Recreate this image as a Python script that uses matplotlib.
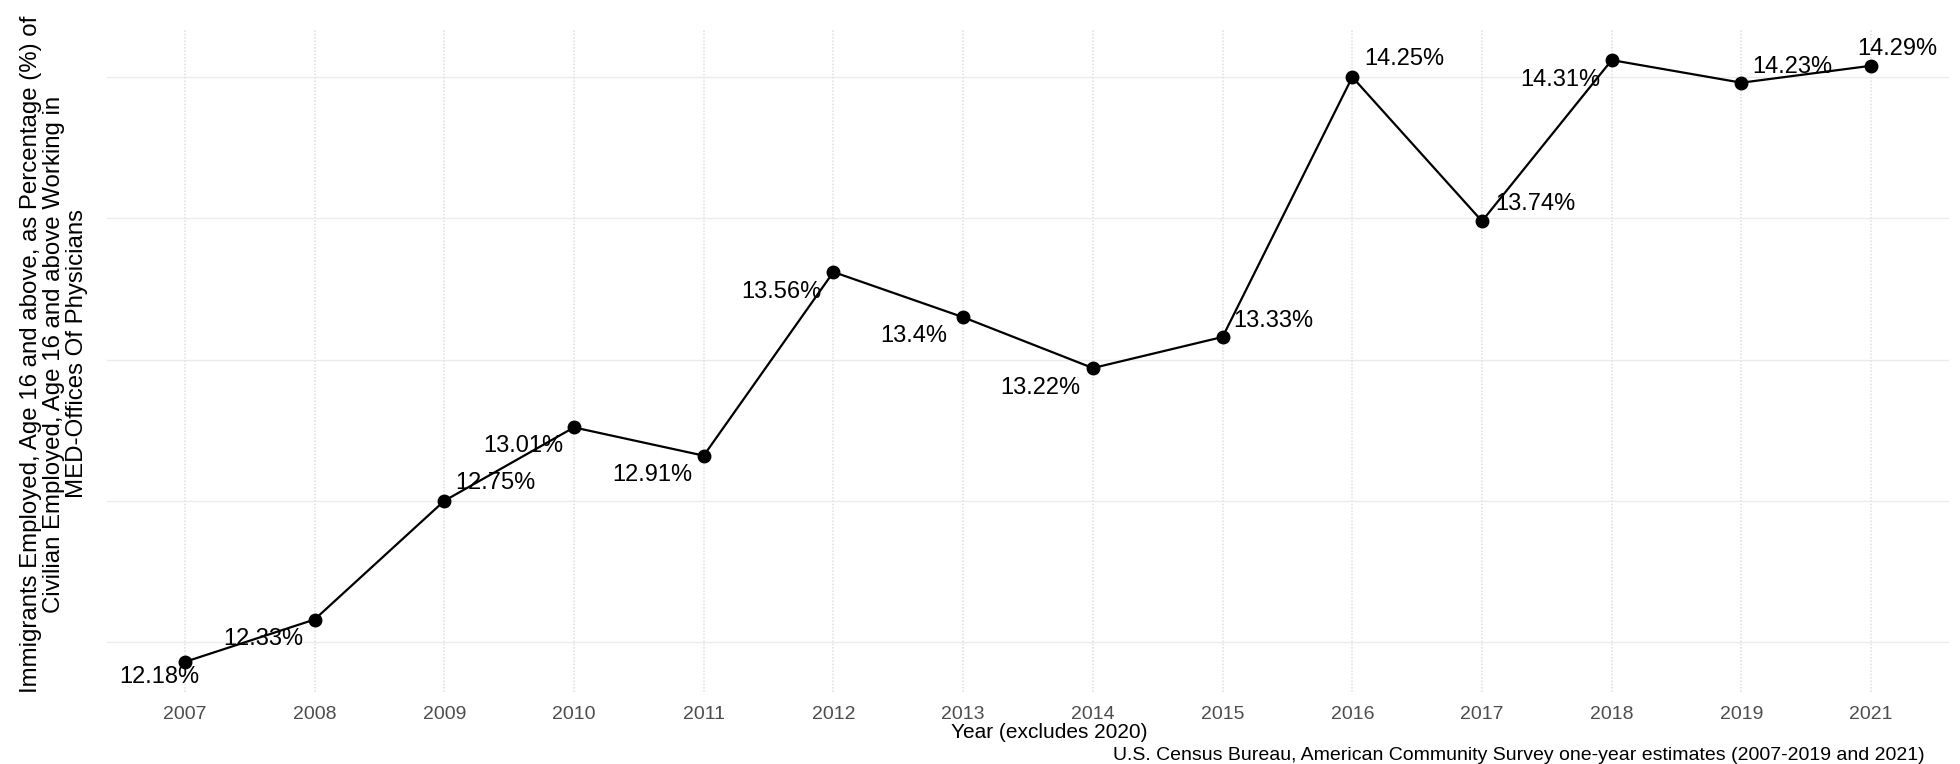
import matplotlib
matplotlib.use('Agg')
import matplotlib.pyplot as plt

# data
years = ['2007', '2008', '2009', '2010', '2011', '2012', '2013',
         '2014', '2015', '2016', '2017', '2018', '2019', '2021']
share = [12.18, 12.33, 12.75, 13.01, 12.91, 13.56, 13.40,
         13.22, 13.33, 14.25, 13.74, 14.31, 14.23, 14.29]
labels = ['12.18%', '12.33%', '12.75%', '13.01%', '12.91%', '13.56%', '13.4%',
          '13.22%', '13.33%', '14.25%', '13.74%', '14.31%', '14.23%', '14.29%']
grid_y = [12.25, 12.75, 13.25, 13.75, 14.25]

# label offsets in pixels (dx, dy)
offsets = [(-26, -15), (-51, -19), (51, 18), (-51, -19), (-51, -19),
           (-52, -20), (-49, -19), (-53, -20), (51, 16), (52, 18),
           (53, 17), (-51, -20), (51, 16), (26, 17)]

plt.rcParams['font.family'] = ['Liberation Sans', 'DejaVu Sans']

W, H = 1960, 764
fig = plt.figure(figsize=(W / 100, H / 100), dpi=100)
left, right, top, bottom = 107, 1949, 30, 692
ax = fig.add_axes([left / W, 1 - bottom / H, (right - left) / W, (bottom - top) / H])

x = list(range(len(years)))
ax.plot(x, share, color='black', lw=1.6, marker='o', ms=9, zorder=3)

for xi, yi, lab, (dx, dy) in zip(x, share, labels, offsets):
    ax.annotate(lab, (xi, yi), xytext=(dx, dy), textcoords='offset pixels',
                ha='center', va='center', fontsize=17, color='black', zorder=4)

lo, hi = min(share), max(share)
pad = (hi - lo) * 0.05
ax.set_ylim(lo - pad, hi + pad)
ax.set_xlim(-0.6, len(years) - 0.4)

for g in grid_y:
    ax.axhline(g, color='#ebebeb', lw=1.0, zorder=0)
for xi in x:
    ax.axvline(xi, color='#e3e3e3', lw=1.2, ls=(0, (1, 1)), zorder=0)

ax.set_xticks(x)
ax.set_xticklabels(years, fontsize=14, color='#4d4d4d')
ax.set_yticks([])
ax.tick_params(axis='x', length=0, pad=10)
for s in ax.spines.values():
    s.set_visible(False)

fig.text(1049 / W, 1 - 733 / H, 'Year (excludes 2020)',
         ha='center', va='center', fontsize=15, color='black')

fig.text(54 / W, 1 - 354 / H,
         'Immigrants Employed, Age 16 and above, as Percentage (%) of\n'
         'Civilian Employed, Age 16 and above Working in\n'
         'MED-Offices Of Physicians',
         rotation=90, ha='center', va='center', fontsize=17.3,
         linespacing=1.05, color='black')

fig.text(1925 / W, 0.5 / H,
         'U.S. Census Bureau, American Community Survey one-year estimates (2007-2019 and 2021)',
         ha='right', va='bottom', fontsize=14, color='black')

fig.savefig('out.png', dpi=100)
